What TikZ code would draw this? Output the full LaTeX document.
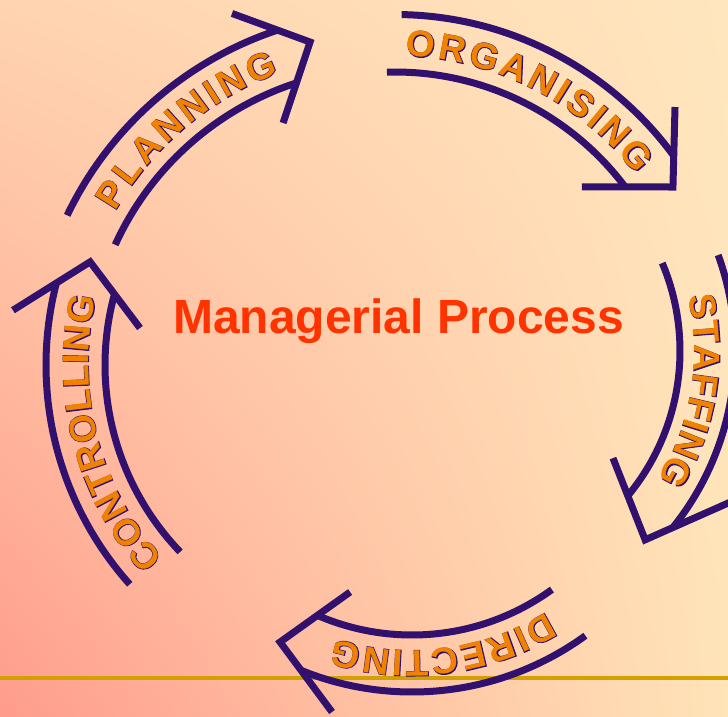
\documentclass[tikz,border=0pt]{standalone}
\usepackage{fontspec}
\setmainfont{Liberation Sans}
\newfontfamily\wordfont{Liberation Sans Bold}
\newfontfamily\rimfont{Liberation Sans Bold}[FakeBold=3]
\usetikzlibrary{calc,decorations.text,shadings}

\definecolor{bandpurple}{HTML}{32106E}
\definecolor{wordorange}{HTML}{F08200}
\definecolor{titlered}{HTML}{FF3300}
\definecolor{rulegold}{HTML}{D2A000}
\definecolor{bgtl}{HTML}{FFD4B0}
\definecolor{bgtr}{HTML}{FFE6BE}
\definecolor{bgbl}{HTML}{FF9C8C}
\definecolor{bgbr}{HTML}{FFE4B8}

\begin{document}
\begin{tikzpicture}[x=1pt, y=1pt,
  band/.style={draw=bandpurple, line width=7pt},
  head/.style={band, line join=miter},
  word/.style={
    preaction={decorate, decoration={text along path, text align={fit to path},
      text color=bandpurple, text={|\rimfont\fontsize{37}{40}\selectfont|#1}}},
    postaction={decorate, decoration={text along path, text align={fit to path},
      text color=wordorange, text={|\wordfont\fontsize{37}{40}\selectfont|#1}}}}]
  \useasboundingbox (0,0) rectangle (728,-716);
  \clip (0,0) rectangle (728,-716);
  \shade[upper left=bgtl, upper right=bgtr, lower left=bgbl, lower right=bgbr]
    (0,0) rectangle (728,-716);
  \draw[rulegold, line width=4.5pt] (0,-678) -- (728,-678);

  % planning
  \coordinate (plan) at (390,-370);
  \draw[band] (plan) ++(154.4:358pt) arc[start angle=154.4, end angle=108.3, radius=358pt];
  \draw[band] (plan) ++(155.5:302pt) arc[start angle=155.5, end angle=108.1, radius=302pt];
  \draw[head] ($(plan)+(113.9:390pt)$) -- ($(plan)+(103.7:337.6pt)$) -- ($(plan)+(113.4:269.2pt)$);
  \path[word=PLANNING] (plan) ++(150:317pt) arc[start angle=150, end angle=110.5, radius=317pt];

  % organising
  \coordinate (org) at (395,-360);
  \draw[band] (org) ++(88.9:345.5pt) arc[start angle=88.9, end angle=36.2, radius=345.5pt];
  \draw[band] (org) ++(91.6:288pt) arc[start angle=91.6, end angle=36.9, radius=288pt];
  \draw[head] ($(org)+(42.1:377.4pt)$) -- ($(org)+(31.9:327.4pt)$) -- ($(org)+(42.8:254.8pt)$);
  \path[word=ORGANISING] (org) ++(88:304pt) arc[start angle=88, end angle=37.5, radius=304pt];

  % staffing
  \coordinate (staff) at (453,-351);
  \draw[band] (staff) ++(19.9:282pt) arc[start angle=19.9, end angle=-38.7, radius=282pt];
  \draw[band] (staff) ++(22.8:227pt) arc[start angle=22.8, end angle=-39.7, radius=227pt];
  \draw[head] ($(staff)+(-28.3:317pt)$) -- ($(staff)+(-44.5:269.4pt)$) -- ($(staff)+(-33.8:192.5pt)$);
  \path[word=STAFFING] (staff) ++(13:241.5pt) arc[start angle=13, end angle=-32, radius=241.5pt];

  % directing
  \coordinate (direct) at (412,-397);
  \draw[band] (direct) ++(-54:295pt) arc[start angle=-54, end angle=-112.1, radius=295pt];
  \draw[band] (direct) ++(-54:238pt) arc[start angle=-54, end angle=-113.4, radius=238pt];
  \draw[head] ($(direct)+(-104.25:325pt)$) -- ($(direct)+(-118.3:278.3pt)$) -- ($(direct)+(-107.6:204.6pt)$);
  \path[word=DIRECTING] (direct) ++(-58:253.5pt) arc[start angle=-58, end angle=-107.7, radius=253.5pt];

  % controlling
  \coordinate (ctrl) at (375,-365);
  \draw[band] (ctrl) ++(221.8:329pt) arc[start angle=221.8, end angle=165.55, radius=329pt];
  \draw[band] (ctrl) ++(223.8:270pt) arc[start angle=223.8, end angle=164.8, radius=270pt];
  \draw[head] ($(ctrl)+(171.4:366.2pt)$) -- ($(ctrl)+(160.1:303pt)$) -- ($(ctrl)+(171.05:237.9pt)$);
  \path[word=CONTROLLING] (ctrl) ++(222.4:286.5pt) arc[start angle=222.4, end angle=166.3, radius=286.5pt];

  \node[font=\bfseries\fontsize{48}{50}\selectfont, text=titlered, anchor=base] (title)
    at (398.5,-333) {Managerial Process};
\end{tikzpicture}
\end{document}
